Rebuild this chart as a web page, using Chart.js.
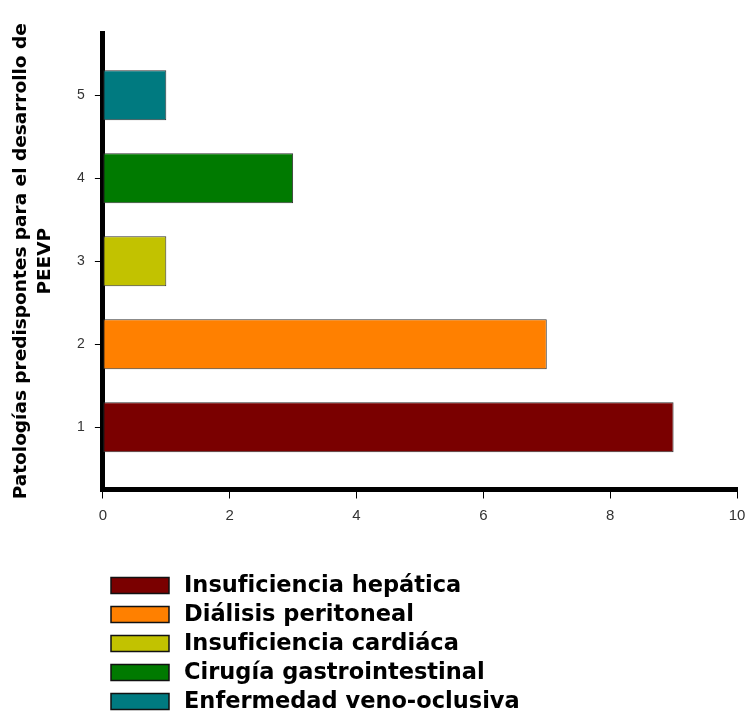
<!DOCTYPE html>
<html lang="es">
<head>
<meta charset="UTF-8" />
<meta name="viewport" content="width=device-width, initial-scale=1.0" />
<title>Patologías predisponentes PEEVP</title>
<script src="https://cdn.jsdelivr.net/npm/chart.js@4/dist/chart.umd.min.js"></script>
<style>
  html, body { margin: 0; padding: 0; background: #fff; }
  #wrap { width: 749px; height: 713px; position: relative; }
</style>
</head>
<body>
<div id="wrap"><canvas id="myChart"></canvas></div>
<script>
// categories on the vertical axis (1 = bottom)
const categories = [1, 2, 3, 4, 5];
const pathologies = [
  "Insuficiencia hepática",
  "Diálisis peritoneal",
  "Insuficiencia cardiáca",
  "Cirugía gastrointestinal",
  "Enfermedad veno-oclusiva"
];
const cases = [9, 7, 1, 3, 1];
const barColors = ["#7a0000", "#ff8000", "#c2c200", "#007a00", "#007a80"];
const xTicks = [0, 2, 4, 6, 8, 10];
const yTitle = ["Patologías predispontes para el desarrollo de", "PEEVP"];

const FONT = '"Liberation Sans", Arial, sans-serif';
const WIDE = '"DejaVu Sans", Verdana, sans-serif';

// legend drawn as a vertical list under the plot
const bottomLegend = {
  id: "bottomLegend",
  afterDraw(chart) {
    const { ctx } = chart;
    const top = chart.chartArea.bottom + 96;
    ctx.save();
    ctx.font = "bold 22.5px " + WIDE;
    ctx.textBaseline = "middle";
    pathologies.forEach((name, i) => {
      const y = top + i * 29;
      ctx.fillStyle = barColors[i];
      ctx.fillRect(111, y - 8, 58, 16);
      ctx.strokeStyle = "#111";
      ctx.lineWidth = 1.5;
      ctx.strokeRect(111, y - 8, 58, 16);
      ctx.fillStyle = "#000";
      ctx.fillText(name, 184, y + 1);
    });
    ctx.restore();
  }
};

const ctx = document.getElementById("myChart").getContext("2d");

new Chart(ctx, {
  type: "bar",
  data: {
    datasets: [{
      data: categories.map((c, i) => ({ x: cases[i], y: c })),
      backgroundColor: barColors,
      borderColor: "#333",
      borderWidth: 1,
      borderSkipped: false,
      categoryPercentage: 0.8,
      barPercentage: 0.75
    }]
  },
  options: {
    indexAxis: "y",
    responsive: true,
    maintainAspectRatio: false,
    animation: false,
    layout: { padding: { top: 33, right: 4, bottom: 180.5, left: 0 } },
    plugins: {
      legend: { display: false },
      tooltip: { enabled: false }
    },
    scales: {
      x: {
        type: "linear",
        min: 0,
        max: 10,
        afterBuildTicks: (axis) => { axis.ticks = xTicks.map(v => ({ value: v })); },
        // let the "10" label hang a little past the axis end
        afterFit: (axis) => { axis.paddingRight = 12; },
        ticks: { color: "#333", font: { family: FONT, size: 15 }, padding: 8 },
        grid: { drawOnChartArea: false, color: "#000", tickColor: "#000", tickLength: 9, lineWidth: 1 },
        border: { color: "#000", width: 5 }
      },
      y: {
        type: "linear",
        offset: false,
        min: 0.25,
        max: 5.75,
        afterBuildTicks: (axis) => { axis.ticks = categories.map(v => ({ value: v })); },
        ticks: { color: "#333", font: { family: FONT, size: 14 }, padding: 10 },
        grid: { offset: false, drawOnChartArea: false, color: "#000", tickColor: "#000", tickLength: 8, lineWidth: 1 },
        border: { color: "#000", width: 5 },
        title: {
          display: true,
          text: yTitle,
          color: "#000",
          font: { family: WIDE, size: 18.5, weight: "bold", lineHeight: 1.3 },
          padding: { top: 9, bottom: 10 }
        }
      }
    }
  },
  plugins: [bottomLegend]
});
</script>
</body>
</html>
